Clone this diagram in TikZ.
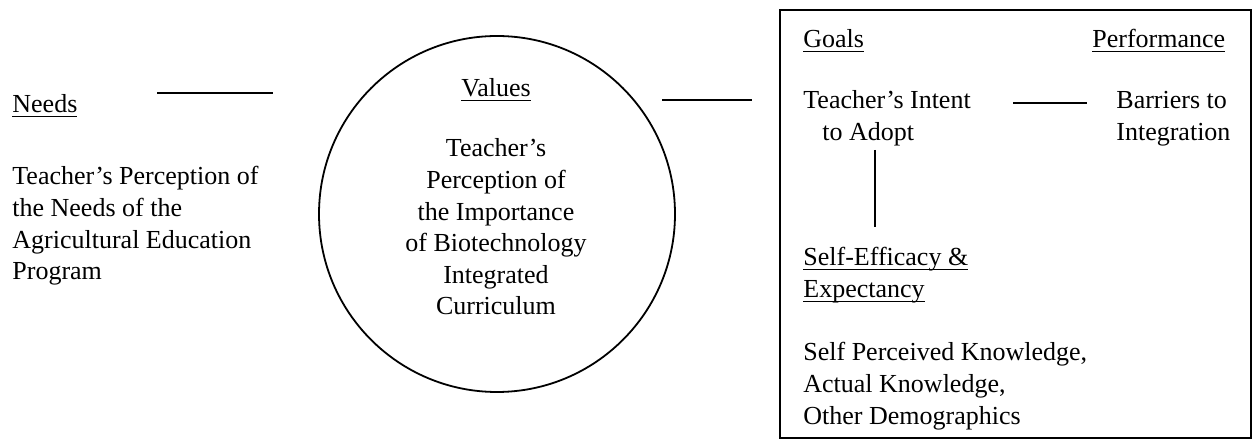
\documentclass[tikz,border=0pt]{standalone}
\usepackage{fontspec}
\setmainfont{Liberation Serif}
\newcommand\myul[1]{{\setbox0\hbox{#1}\rlap{\rule[-2.2pt]{\wd0}{0.6pt}}\box0}}
\newcommand\lblock[1]{\begin{tabular}[t]{@{}l@{}}#1\end{tabular}}
\newcommand\cblock[1]{\begin{tabular}[t]{@{}c@{}}#1\end{tabular}}
\begin{document}
\begin{tikzpicture}[x=0.5pt,y=-0.5pt,
  txt/.style={inner sep=0pt, font=\fontsize{13}{15.8}\selectfont},
  lft/.style={txt, anchor=base west},
  ctr/.style={txt, anchor=base},
  conn/.style={line width=0.9pt}]
\useasboundingbox (0,0) rectangle (1254,442);
% Needs
\node[lft] (needs) at (12,113) {\myul{Needs}};
\node[lft] (needstext) at (12,185) {\lblock{Teacher’s Perception of\\the Needs of the\\Agricultural Education\\Program}};
\coordinate (l1a) at (157,93);
\coordinate (l1b) at (273,93);
\draw[conn] (l1a) -- (l1b);
% Values circle
\node[circle, draw, line width=0.9pt, minimum size=178pt, inner sep=0pt] (vcirc) at (497,214) {};
\node[ctr] (values) at (496,97) {\myul{Values}};
\node[ctr] (valtext) at (496,157) {\cblock{Teacher’s\\Perception of\\the Importance\\of Biotechnology\\Integrated\\Curriculum}};
\coordinate (l2a) at (662,100);
\coordinate (l2b) at (752,100);
\draw[conn] (l2a) -- (l2b);
% Box
\node[draw, line width=0.9pt, minimum width=235.5pt, minimum height=214pt, inner sep=0pt] (box) at (1015.5,224) {};
\node[lft] (goals) at (803,48) {\myul{Goals}};
\node[lft] (perf) at (1092,48) {\myul{Performance}};
\node[lft] (intent) at (803,109) {\lblock{Teacher’s Intent\\\hspace*{9.5pt}to Adopt}};
\node[lft] (barriers) at (1116,109) {\lblock{Barriers to\\Integration}};
\coordinate (l3a) at (1013,103);
\coordinate (l3b) at (1087,103);
\draw[conn] (l3a) -- (l3b);
\coordinate (l4a) at (875,150);
\coordinate (l4b) at (875,227);
\draw[conn] (l4a) -- (l4b);
\node[lft] (selfeff) at (803,266) {\lblock{\myul{Self-Efficacy \&}\\\myul{Expectancy}}};
\node[lft] (know) at (803,361) {\lblock{Self Perceived Knowledge,\\Actual Knowledge,\\Other Demographics}};
\end{tikzpicture}
\end{document}
